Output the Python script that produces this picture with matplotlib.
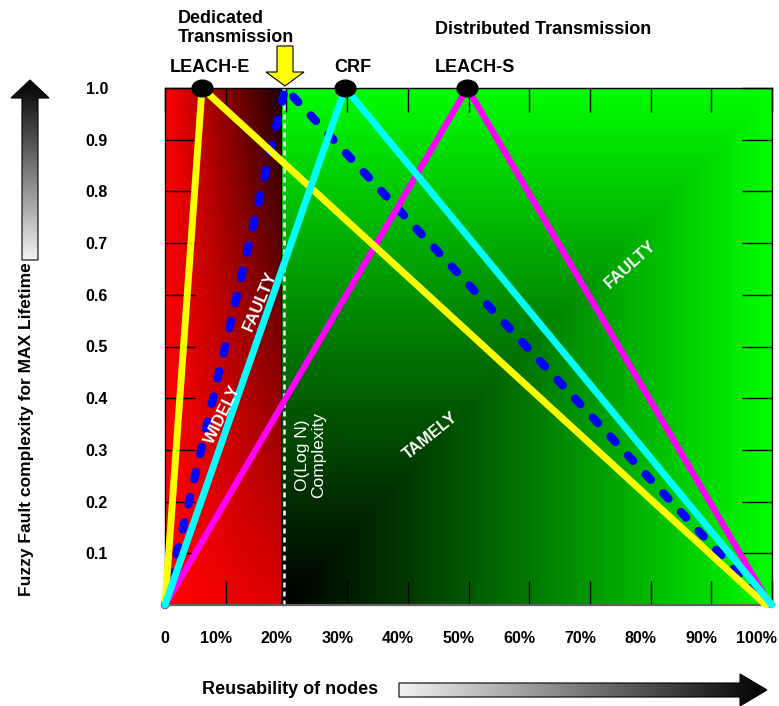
import numpy as np
import matplotlib.pyplot as plt
from matplotlib.patches import Polygon
from matplotlib.path import Path
from matplotlib.transforms import Affine2D, ScaledTranslation

plt.rcParams['font.family'] = ['Liberation Sans', 'DejaVu Sans']

############################# DATA ###################################
x_ticks = [0, 10, 20, 30, 40, 50, 60, 70, 80, 90, 100]
x_tick_labels = ['0', '10%', '20%', '30%', '40%', '50%', '60%', '70%', '80%', '90%', '100%']
y_ticks = [0.1, 0.2, 0.3, 0.4, 0.5, 0.6, 0.7, 0.8, 0.9, 1.0]
y_tick_labels = ['0.1', '0.2', '0.3', '0.4', '0.5', '0.6', '0.7', '0.8', '0.9', '1.0']

# each protocol: rises from 0 to its peak, then falls back to 0
leach_e_x = [0, 6.1, 99.0]
leach_e_y = [0, 1.0, 0]
dedicated_x = [0, 19.8, 99.3]
dedicated_y = [0, 1.0, 0]
crf_x = [0, 29.7, 100.0]
crf_y = [0, 1.0, 0]
leach_s_x = [0, 49.8, 99.7]
leach_s_y = [0, 1.0, 0]

peak_names = ['LEACH-E', 'CRF', 'LEACH-S']
peak_x = [6.1, 29.7, 49.8]
peak_y = [1.0, 1.0, 1.0]

split_x = 19.1        # red / green boundary
complexity_x = 19.6   # O(log N) marker line

############################# FIGURE ###################################
W, H = 779, 706
fig = plt.figure(figsize=(W / 100, H / 100), dpi=100)

# pixel canvas for the decorations outside the plot
deco = fig.add_axes([0, 0, 1, 1], zorder=0)
deco.set_xlim(0, W)
deco.set_ylim(H, 0)
deco.axis('off')

ax = fig.add_axes([165 / W, 101 / H, 607 / W, 517 / H], zorder=1)

# background gradients
n = 256
xf = np.linspace(0, 1, n)[None, :]
yf = np.linspace(0, 1, n)[:, None]
red = np.zeros((n, n, 3))
red[..., 0] = 1 - xf * (0.13 + 0.75 * yf)
green = np.zeros((n, n, 3))
green[..., 1] = np.maximum(xf, yf) ** 1.1
ax.imshow(red, extent=[0, split_x, 0, 1], origin='lower', aspect='auto',
          interpolation='bilinear', zorder=0)
ax.imshow(green, extent=[split_x, 100, 0, 1], origin='lower', aspect='auto',
          interpolation='bilinear', zorder=0)
ax.set_xlim(0, 100)
ax.set_ylim(0, 1)
ax.axvline(split_x, color='black', lw=0.8, zorder=1)
ax.axvline(complexity_x, color='white', lw=1.8, ls=(0, (2, 1.6)), zorder=1.5)

# protocol lines
common = dict(clip_on=False, solid_capstyle='round', solid_joinstyle='round')
ax.plot(dedicated_x, dedicated_y, color='#0000ff', lw=6, ls=(0, (0.9, 2.2)),
        dash_capstyle='round', dash_joinstyle='round', clip_on=False, zorder=2)
ax.plot(leach_s_x, leach_s_y, color='#ff00ff', lw=4.5, zorder=3, **common)
ax.plot(leach_e_x, leach_e_y, color='#ffff00', lw=5, zorder=4, **common)
ax.plot(crf_x, crf_y, color='#00ffff', lw=5, zorder=5, **common)

ellipse = Path.unit_circle().transformed(Affine2D().scale(1.0, 0.8))
ax.plot(peak_x, peak_y, ls='none', marker=ellipse, ms=15, color='black',
        clip_on=False, zorder=6)
for name, px_, py_ in zip(peak_names, peak_x, peak_y):
    ax.annotate(name, xy=(px_, py_), xytext=(8, 20), textcoords='offset pixels',
                ha='center', va='center', fontsize=13, fontweight='bold')

# ticks
ax.set_xticks(x_ticks, x_tick_labels)
ax.set_yticks(y_ticks, y_tick_labels)
ax.tick_params(axis='x', direction='in', length=17, width=1, top=True,
               bottom=True, pad=19, labelsize=11.5)
ax.tick_params(axis='y', direction='in', length=21.5, width=1, left=True,
               right=True, pad=41, labelsize=11.5)
for i, lab in enumerate(ax.get_xticklabels()):
    lab.set_fontweight('bold')
    if i > 0:
        dx = -16 if i == len(x_ticks) - 1 else -10
        lab.set_transform(lab.get_transform() +
                          ScaledTranslation(dx / 100, 0, fig.dpi_scale_trans))
for lab in ax.get_yticklabels():
    lab.set_fontweight('bold')
for s in ax.spines.values():
    s.set_linewidth(1.0)
ax.spines['bottom'].set_color('#606060')
ax.spines['bottom'].set_linewidth(1.6)

# region annotations
txt = dict(ha='center', va='center', color='white', rotation_mode='anchor',
           fontsize=12, fontweight='bold', zorder=7)
ax.text(9.55, 0.369, 'WIDELY', rotation=64, **txt)
ax.text(15.65, 0.588, 'FAULTY', rotation=67, **txt)
ax.text(43.7, 0.327, 'TAMELY', rotation=39, **txt)
ax.text(76.6, 0.658, 'FAULTY', rotation=42, **txt)
ax.text(24.05, 0.29, 'O(Log N)\nComplexity', rotation=90, ha='center', va='center',
        color='white', fontsize=12.5, linespacing=1.1, zorder=7)

############################# DECORATIONS ###################################
deco.text(178, 28, 'Dedicated\nTransmission', ha='left', va='center',
          fontsize=13, fontweight='bold', linespacing=1.1)
deco.text(543, 30, 'Distributed Transmission', ha='center', va='center',
          fontsize=13, fontweight='bold')
deco.text(290, 690, 'Reusability of nodes', ha='center', va='center',
          fontsize=13, fontweight='bold')
deco.text(27, 429, 'Fuzzy Fault complexity for MAX Lifetime', rotation=90,
          ha='center', va='center', fontsize=12.5, fontweight='bold')

# yellow pointer above the O(log N) line
deco.add_patch(Polygon([(277, 46), (293, 46), (293, 72), (304, 72), (285, 86),
                        (266, 72), (277, 72)], closed=True, fc='#ffff00',
                       ec='black', lw=0.8))


def gradient_arrow(verts, extent, img):
    poly = Polygon(verts, closed=True, fc='none', ec='black', lw=0.8, zorder=3)
    deco.add_patch(poly)
    im = deco.imshow(img, extent=extent, cmap='gray', vmin=0, vmax=1,
                     aspect='auto', interpolation='bilinear', zorder=2)
    im.set_clip_path(poly)


ramp = np.linspace(0.0, 0.95, 200)
# up arrow: dark at the tip (top), light at the tail
gradient_arrow([(22, 260), (38, 260), (38, 98), (49, 98), (30, 80), (11, 98),
                (22, 98)], [11, 49, 260, 80], ramp[:, None])
# right arrow: light at the tail (left), dark at the tip
gradient_arrow([(399, 683), (740, 683), (740, 674), (767, 690), (740, 706),
                (740, 697), (399, 697)], [399, 767, 706, 674], ramp[None, ::-1])
deco.set_xlim(0, W)
deco.set_ylim(H, 0)

fig.savefig('out.png', dpi=100)
